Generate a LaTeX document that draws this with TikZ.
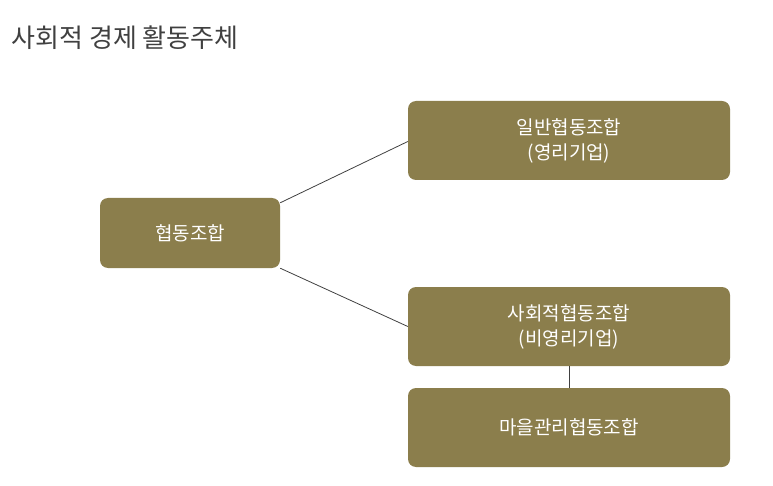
\documentclass[tikz,border=0pt]{standalone}
\usepackage{fontspec}
\newfontfamily\cjk{Noto Sans CJK KR}
\usetikzlibrary{calc}
\definecolor{olive}{RGB}{139,126,76}
\tikzset{
  orgbox/.style={fill=olive, rounded corners=8pt, text=white, align=center,
    font=\cjk\fontsize{19}{25}\selectfont, inner sep=0pt},
  link/.style={draw=black!75, line width=0.8pt}
}
\begin{document}
\begin{tikzpicture}[x=1pt,y=-1pt]
  \useasboundingbox (0,0) rectangle (773,486);
  \node[anchor=west, text=black!75, font=\cjk\fontsize{26}{30}\selectfont] (title) at (8,38) {사회적 경제 활동주체};

  \node[orgbox, minimum width=180pt, minimum height=70pt] (coop) at (190,233) {협동조합};
  \node[orgbox, minimum width=322pt, minimum height=79pt] (general) at (569,140.5) {일반협동조합\\(영리기업)};
  \node[orgbox, minimum width=322pt, minimum height=79pt] (social) at (569,326.5) {사회적협동조합\\(비영리기업)};
  \node[orgbox, minimum width=322pt, minimum height=79pt] (village) at (569,427.5) {마을관리협동조합};

  \draw[link] ($(coop.north east)+(0,5)$) -- ($(general.west)+(0,1)$);
  \draw[link] (coop.south east) -- ($(social.west)+(0,0)$);
  \draw[link] (social.south) -- (village.north);
\end{tikzpicture}
\end{document}
